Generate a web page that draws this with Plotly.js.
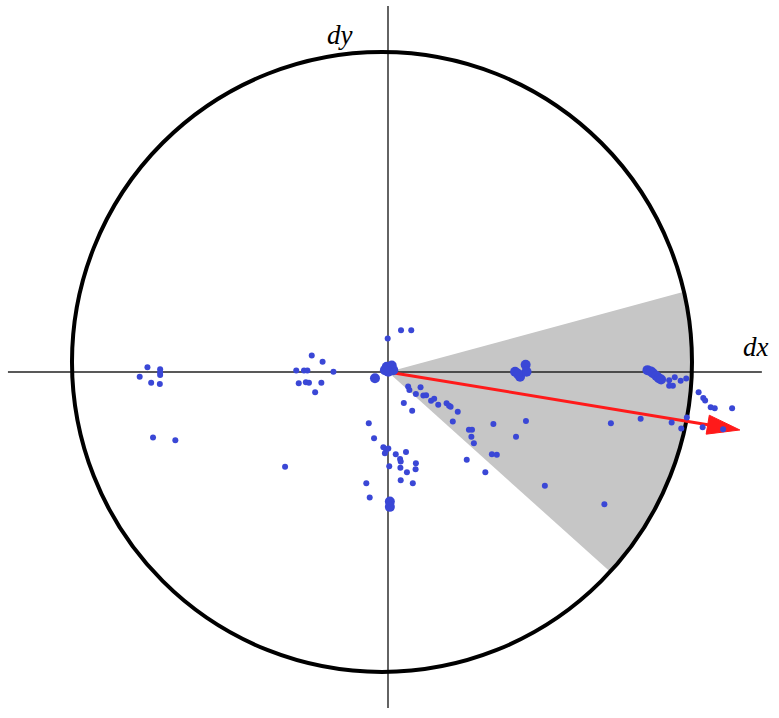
<!DOCTYPE html>
<html>
<head>
<meta charset="utf-8">
<script src="https://cdn.plot.ly/plotly-3.0.1.min.js"></script>
<style>html,body{margin:0;padding:0;background:#fff;}#chart{width:779px;height:718px;}</style>
</head>
<body>
<div id="chart"></div>
<script>
// Small displacement points (dx, dy)
const smallX = [-0.776,-0.801,-0.735,-0.735,-0.735,-0.764,-0.736,-0.758,-0.686,
  -0.246,-0.211,-0.296,-0.271,-0.260,-0.176,-0.288,-0.265,-0.255,-0.215,-0.235,-0.332,
  0.042,0.075,-0.001,
  0.065,0.069,0.105,0.090,0.114,0.123,0.139,0.149,0.162,0.189,0.197,0.202,0.225,0.051,0.078,0.209,
  0.340,0.445,0.261,0.271,0.269,0.277,0.413,0.335,0.351,0.254,0.314,0.506,0.698,
  -0.062,-0.045,-0.015,-0.006,0.001,-0.010,0.025,0.058,0.039,0.041,0.090,0.004,0.040,0.089,0.061,-0.070,0.041,0.080,-0.059,
  0.907,0.925,0.944,0.962,0.907,0.919,1.002,1.017,1.023,1.041,1.054,1.110,
  0.719,0.815,0.915,0.964,0.946,1.015,1.081];
const smallY = [0.015,-0.015,0.009,-0.002,-0.010,-0.035,-0.039,-0.211,-0.220,
  0.053,0.033,0.005,0.005,0.005,0.001,-0.036,-0.033,-0.035,-0.035,-0.065,-0.306,
  0.135,0.135,0.108,
  -0.047,-0.058,-0.049,-0.071,-0.076,-0.075,-0.093,-0.086,-0.106,-0.101,-0.109,-0.112,-0.128,-0.100,-0.125,-0.160,
  -0.168,-0.158,-0.186,-0.186,-0.209,-0.230,-0.209,-0.265,-0.267,-0.283,-0.323,-0.367,-0.427,
  -0.165,-0.214,-0.243,-0.252,-0.247,-0.262,-0.265,-0.258,-0.281,-0.289,-0.294,-0.304,-0.309,-0.314,-0.323,-0.359,-0.349,-0.359,-0.405,
  -0.027,-0.017,-0.028,-0.021,-0.044,-0.044,-0.065,-0.084,-0.092,-0.114,-0.117,-0.117,
  -0.165,-0.151,-0.163,-0.147,-0.182,-0.178,-0.185];
// Large (repeated) points
const bigX = [-0.004,0.012,0.017,0.001,-0.010,-0.042,
  0.410,0.426,0.444,0.447,0.419,
  0.837,0.848,0.855,0.866,0.874,0.881,
  0.006,0.006];
const bigY = [0.017,0.021,0.006,0.001,0.006,-0.020,
  0.001,-0.015,0.023,0.001,-0.006,
  0.006,0.002,-0.004,-0.013,-0.020,-0.024,
  -0.418,-0.435];
// Mean displacement arrow tip
const arrowTip = [1.135, -0.187];
// Sector (grey wedge) angles in degrees, measured on the circle
const sectorAngles = [13.1, -42.6];
// Unit circle (slightly offset centre)
const circleCenter = [-0.0194, 0.0323];
const circleR = 1.0;
const axisLabels = ['dx', 'dy'];

const blue = '#3a47d6';

// wedge path: from origin to arc on circle
let path = 'M0,0';
const n = 60;
for (let i = 0; i <= n; i++) {
  const a = (sectorAngles[0] + (sectorAngles[1] - sectorAngles[0]) * i / n) * Math.PI / 180;
  const px = circleCenter[0] + circleR * Math.cos(a);
  const py = circleCenter[1] + circleR * Math.sin(a);
  path += ' L' + px.toFixed(4) + ',' + py.toFixed(4);
}
path += ' Z';

// arrow head geometry
const headLen = 0.105, headHalf = 0.031;
const len = Math.hypot(arrowTip[0], arrowTip[1]);
const ux = arrowTip[0] / len, uy = arrowTip[1] / len;
const bx = arrowTip[0] - headLen * ux, by = arrowTip[1] - headLen * uy;
const nx = -uy, ny = ux;

const traces = [
  {x: [0, bx + 0.01 * ux], y: [0, by + 0.01 * uy], mode: 'lines', line: {color: '#ff1a1a', width: 3}, hoverinfo: 'skip'},
  {x: [arrowTip[0], bx + headHalf * nx, bx - headHalf * nx, arrowTip[0]],
   y: [arrowTip[1], by + headHalf * ny, by - headHalf * ny, arrowTip[1]],
   mode: 'lines', fill: 'toself', fillcolor: '#ff1a1a', line: {color: '#ff1a1a', width: 1}, hoverinfo: 'skip'},
  {x: smallX, y: smallY, mode: 'markers', marker: {color: blue, size: 6, line: {width: 0}}, hoverinfo: 'skip'},
  {x: bigX, y: bigY, mode: 'markers', marker: {color: blue, size: 10, line: {width: 0}}, hoverinfo: 'skip'}
];

const layout = {
  width: 779, height: 718,
  margin: {l: 0, r: 0, t: 0, b: 0},
  paper_bgcolor: '#ffffff', plot_bgcolor: '#ffffff',
  showlegend: false,
  xaxis: {range: [-388 / 310, 391 / 310], visible: false, fixedrange: true},
  yaxis: {range: [-346 / 310, 372 / 310], visible: false, fixedrange: true},
  shapes: [
    {type: 'path', path: path, fillcolor: '#c6c6c6', line: {width: 0}, layer: 'below'},
    {type: 'line', x0: -1.226, x1: 1.206, y0: 0, y1: 0, line: {color: '#222', width: 1.4}, layer: 'below'},
    {type: 'line', x0: 0, x1: 0, y0: -1.084, y1: 1.181, line: {color: '#222', width: 1.4}, layer: 'below'},
    {type: 'circle', x0: circleCenter[0] - circleR, x1: circleCenter[0] + circleR,
     y0: circleCenter[1] - circleR, y1: circleCenter[1] + circleR,
     line: {color: '#000', width: 4}, layer: 'below'}
  ],
  annotations: [
    {x: 1.187, y: 0.081, text: '<i>' + axisLabels[0] + '</i>', showarrow: false, xanchor: 'center', yanchor: 'middle',
     font: {family: 'Liberation Serif, serif', size: 27, color: '#000'}},
    {x: -0.155, y: 1.087, text: '<i>' + axisLabels[1] + '</i>', showarrow: false, xanchor: 'center', yanchor: 'middle',
     font: {family: 'Liberation Serif, serif', size: 27, color: '#000'}}
  ]
};

Plotly.newPlot('chart', traces, layout, {staticPlot: true, displayModeBar: false});
</script>
</body>
</html>
